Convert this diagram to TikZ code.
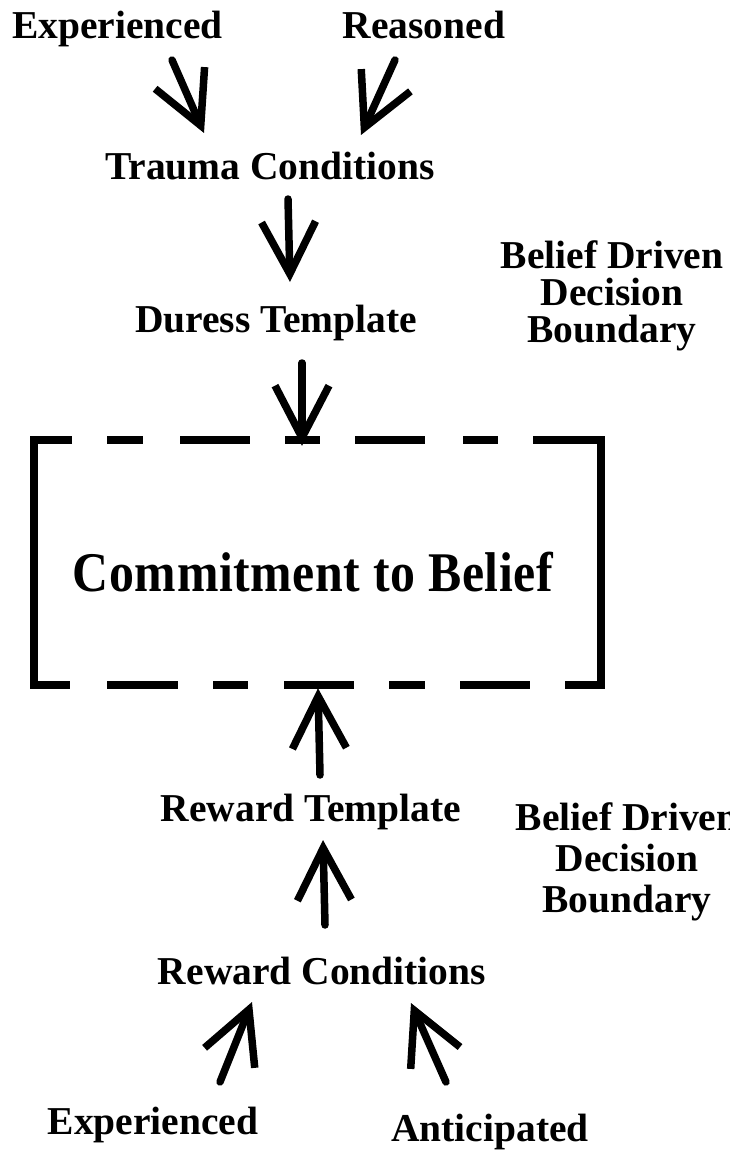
\documentclass[tikz,border=0pt]{standalone}
\usepackage{fontspec}
\usetikzlibrary{arrows.meta}
\newfontfamily\tnr{Liberation Serif}
\newfontfamily\tnrnarrow{Liberation Serif}[FakeStretch=0.89,LetterSpace=1]
\begin{document}
\begin{tikzpicture}[x=1pt,y=1pt,
  lbl/.style={font=\tnr\bfseries\fontsize{39.5}{37}\selectfont, inner sep=0pt, align=center},
  biglbl/.style={font=\tnrnarrow\bfseries\fontsize{56}{60}\selectfont, inner sep=0pt},
  arr/.style={line width=7.5pt, line cap=round, line join=round,
     -{Straight Barb[length=52pt,width=54pt]}},
  boxln/.style={line width=8pt, line cap=butt, line join=miter}]
\fill[white] (0,0) rectangle (730,-1150);
\useasboundingbox (0,0) rectangle (730,-1150);

% text nodes
\node[lbl, anchor=base] (exp1) at (117.5,-39) {Experienced};
\node[lbl, anchor=base] (reas) at (424,-39) {Reasoned};
\node[lbl, anchor=base] (trauma) at (270,-180) {Trauma Conditions};
\node[lbl, anchor=base] (duress) at (276,-332) {Duress Template};
\node[lbl, anchor=north] (bdd1) at (612,-240) {Belief Driven\\Decision\\Boundary};
\node[minimum width=568pt, minimum height=245pt, inner sep=0pt] (box) at (317.5,-562.5) {};
\node[biglbl, anchor=base] (commit) at (313,-591) {Commitment to Belief};
\node[lbl, anchor=base] (rtemp) at (311,-821) {Reward Template};
\node[lbl, anchor=north, font=\tnr\bfseries\fontsize{39.5}{41}\selectfont] (bdd2) at (627,-802) {Belief Driven\\Decision\\Boundary};
\node[lbl, anchor=base] (rcond) at (322,-984) {Reward Conditions};
\node[lbl, anchor=base] (exp2) at (153,-1134) {Experienced};
\node[lbl, anchor=base] (antic) at (490,-1141) {Anticipated};

% box outline (dashed top and bottom, solid sides)
\draw[boxln] (72,-440) -- (34,-440) -- (34,-685) -- (70,-685);
\draw[boxln] (533,-440) -- (601,-440) -- (601,-685) -- (565,-685);
\foreach \a/\b in {107/143,180/250,285/320,355/425,463/498}
  \draw[boxln] (\a,-440) -- (\b,-440);
\foreach \a/\b in {107/178,213/248,284/354,389/425,460/530}
  \draw[boxln] (\a,-685) -- (\b,-685);

% arrow end points
\coordinate (a1s) at (172,-60);   \coordinate (a1e) at (204,-133);
\coordinate (a2s) at (395,-60);   \coordinate (a2e) at (361,-135);
\coordinate (a3s) at (288,-199);  \coordinate (a3e) at (290,-282);
\coordinate (a4s) at (302,-363);
\coordinate (a5s) at (320,-775);
\coordinate (a6s) at (325,-925);  \coordinate (a6e) at (323,-840);
\coordinate (a7s) at (220,-1082); \coordinate (a7e) at (252,-1002);
\coordinate (a8s) at (446,-1082); \coordinate (a8e) at (411,-1003);

% connectors
\draw[arr] (a1s) -- (a1e);
\draw[arr] (a2s) -- (a2e);
\draw[arr] (a3s) -- (a3e);
\draw[arr] (a4s) -- ([yshift=-6pt]a4s |- box.north);
\draw[arr] (a5s) -- ([xshift=-2pt,yshift=-3pt]a5s |- box.south);
\draw[arr] (a6s) -- (a6e);
\draw[arr] (a7s) -- (a7e);
\draw[arr] (a8s) -- (a8e);
\end{tikzpicture}
\end{document}
